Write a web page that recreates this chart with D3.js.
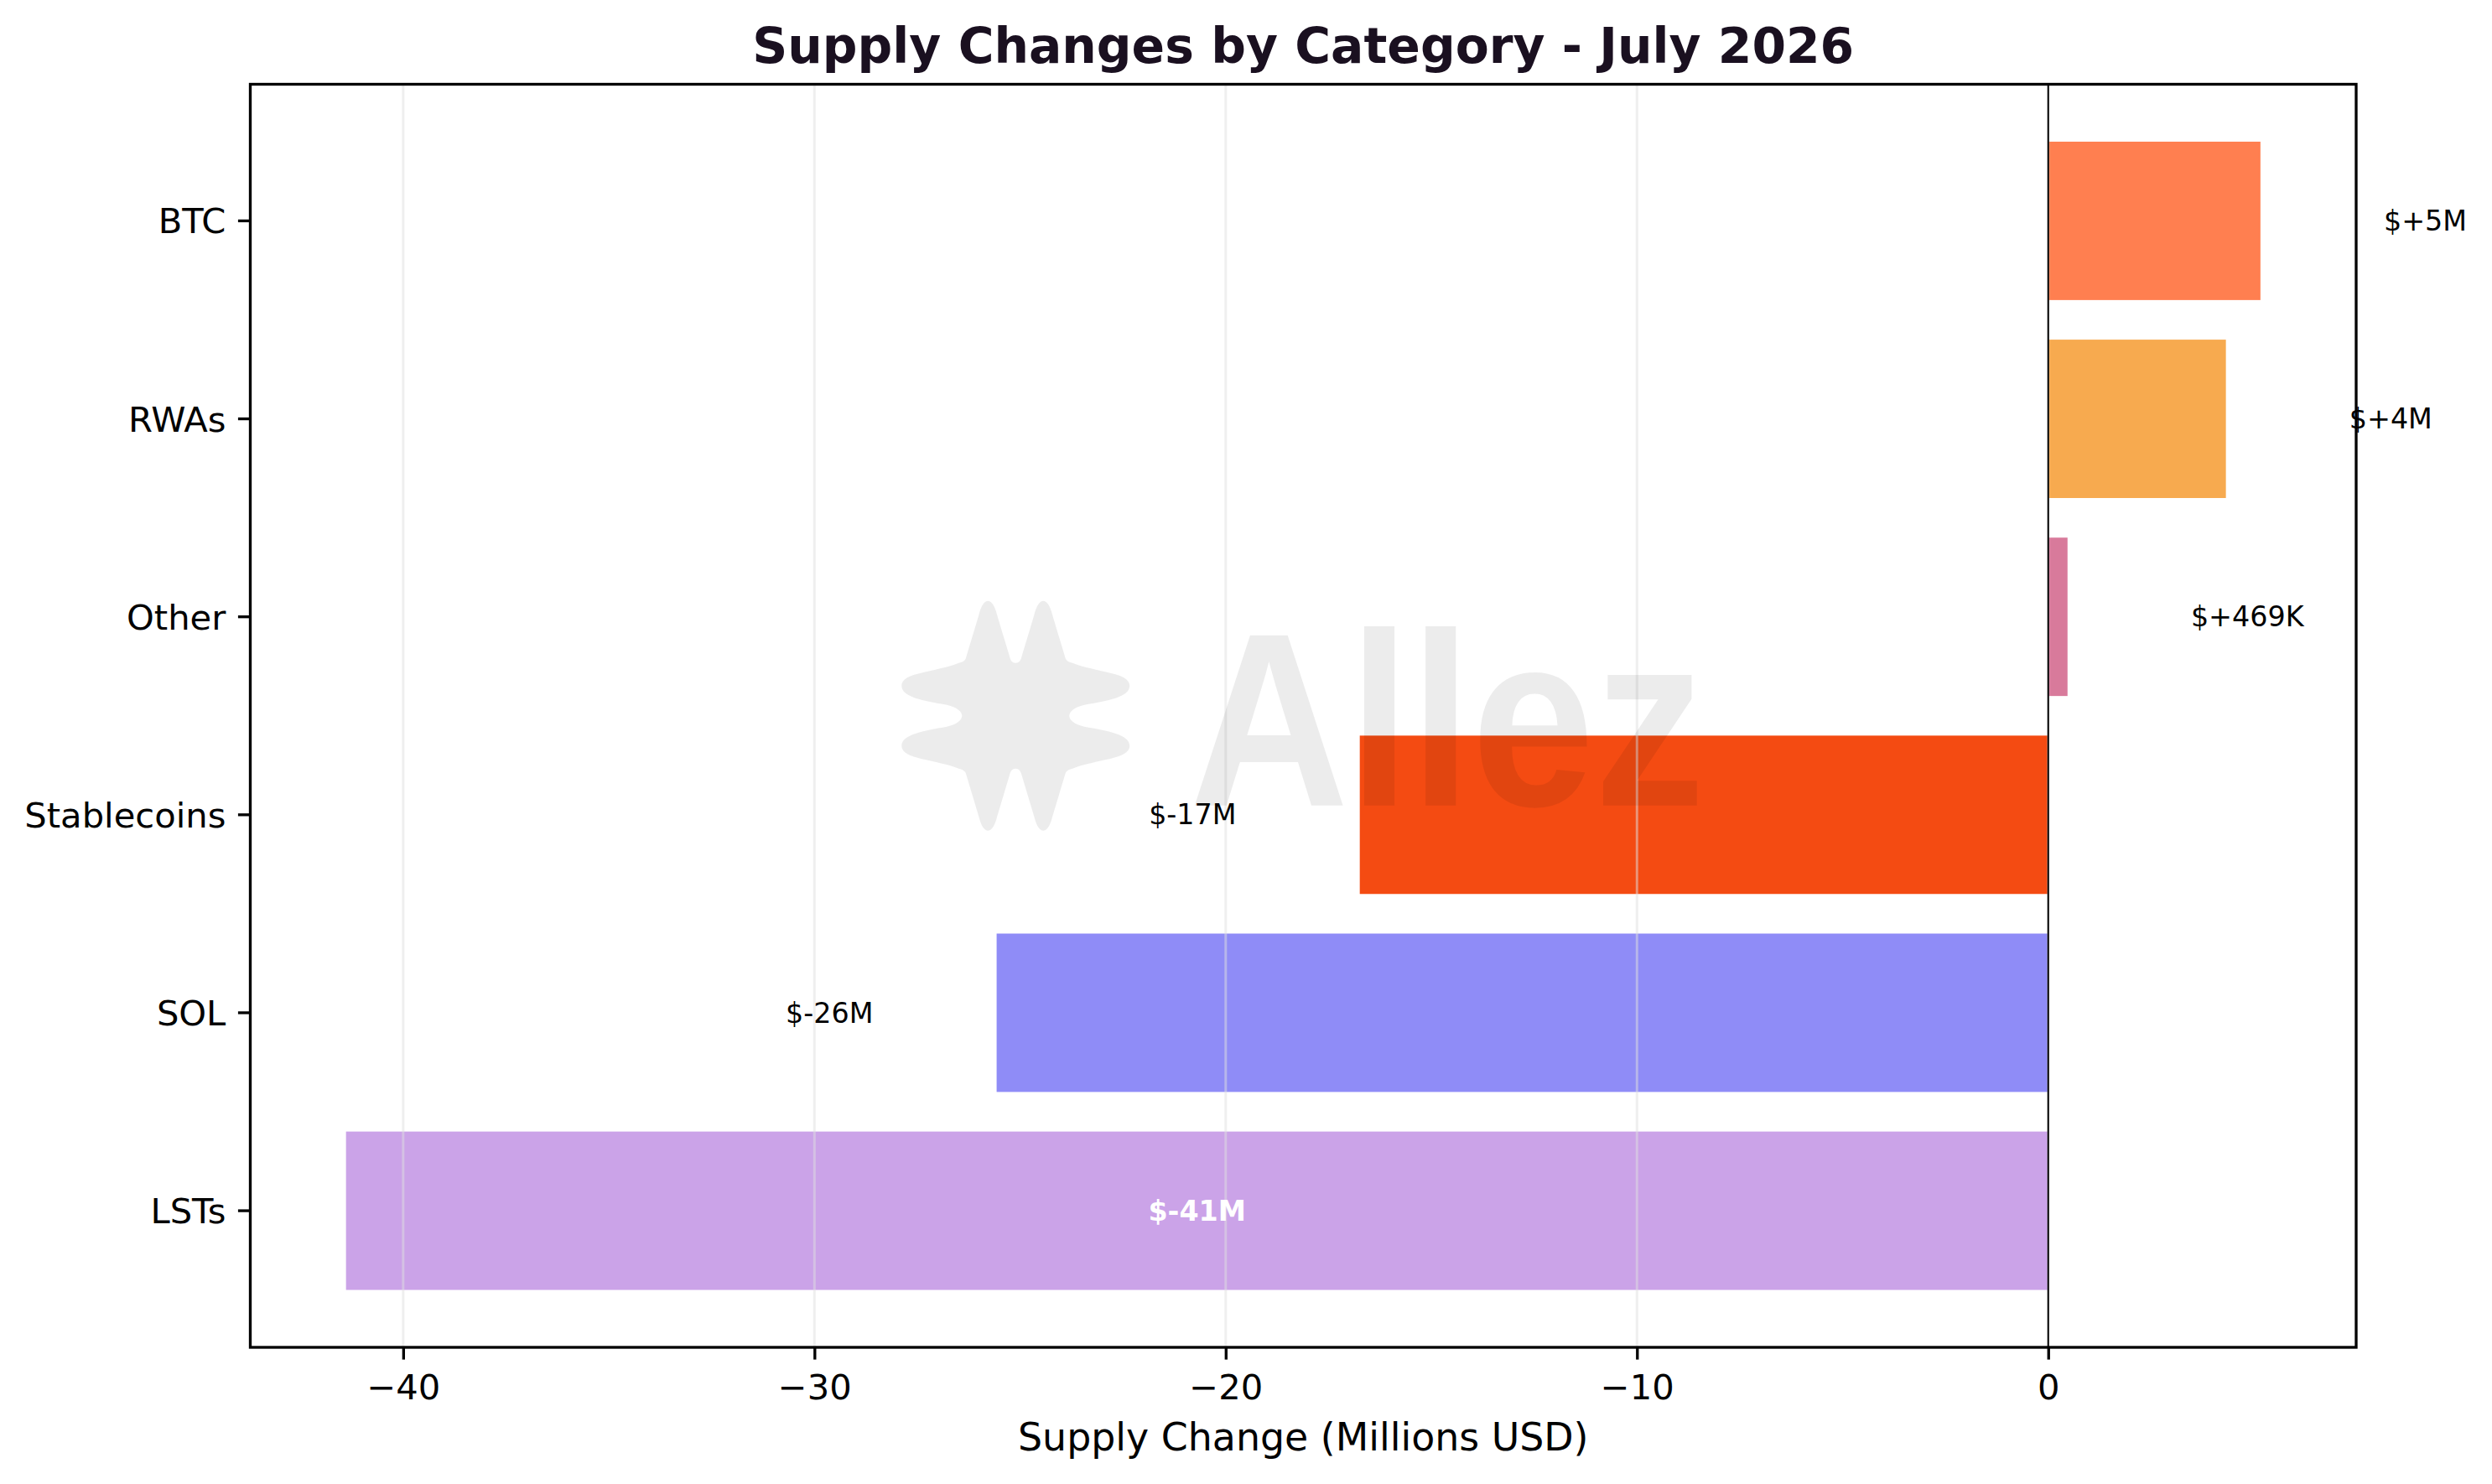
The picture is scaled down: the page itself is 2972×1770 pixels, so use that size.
<!DOCTYPE html>
<html>
<head>
    <meta charset="utf-8">
    <title>Supply Changes by Category</title>
    <script src="https://d3js.org/d3.v7.min.js"></script>
    <style>
        body { margin: 0; background: #fff; }
        text { font-family: "DejaVu Sans", sans-serif; }
    </style>
</head>

<body>
<div id="chart"></div>
<script type="text/javascript">
    // data, top to bottom as drawn
    let categories = ["BTC", "RWAs", "Other", "Stablecoins", "SOL", "LSTs"];
    let changes = [5.16, 4.32, 0.469, -16.74, -25.57, -41.39];   // millions USD
    let barColors = ["#FF7F50", "#F7AA4F", "#D87A9B", "#F44B12", "#8F8CF7", "#CBA3E8"];
    let xTicks = [-40, -30, -20, -10, 0];
    let titleText = "Supply Changes by Category - July 2026";
    let xLabelText = "Supply Change (Millions USD)";

    let W = 2972, H = 1770;
    let margin = {top: 100.5, right: 162, bottom: 163, left: 298.5};
    let w = W - margin.left - margin.right;
    let h = H - margin.top - margin.bottom;

    let pt = 300 / 72;   // px per point
    let labelOffset = 3; // value units between bar end and label
    let insideLimit = 30;

    let data = categories.map(function(c, i){
        return {cat: c, v: changes[i], color: barColors[i]};
    });

    function fmt(v){
        let sign = v >= 0 ? "+" : "-";
        let a = Math.abs(v);
        if (a < 1) return "$" + sign + Math.round(a * 1000) + "K";
        return "$" + sign + Math.round(a) + "M";
    }

    let svg = d3.select("#chart")
            .append("svg")
                .attr("width", W)
                .attr("height", H)
                .style("background", "#fff");

    let g = svg.append("g")
            .attr("transform", "translate(" + margin.left + "," + margin.top + ")");

    // matplotlib-like 5% margins
    let lo = Math.min(0, d3.min(changes)), hi = Math.max(0, d3.max(changes));
    let pad = (hi - lo) * 0.05;

    let xScale = d3.scaleLinear()
                .domain([lo - pad, hi + pad])
                .range([0, w]);

    let yScale = d3.scaleBand()
                .domain(categories)
                .range([0, h])
                .paddingInner(0.2)
                .paddingOuter(0.29);

    // bars
    g.selectAll("rect.bar")
        .data(data)
        .enter()
        .append("rect")
        .attr("class", "bar")
        .attr("x", function(d){ return xScale(Math.min(0, d.v)); })
        .attr("y", function(d){ return yScale(d.cat); })
        .attr("width", function(d){ return Math.abs(xScale(d.v) - xScale(0)); })
        .attr("height", yScale.bandwidth())
        .attr("fill", function(d){ return d.color; });

    // vertical grid
    g.selectAll("line.grid")
        .data(xTicks)
        .enter()
        .append("line")
        .attr("class", "grid")
        .attr("x1", function(d){ return xScale(d); })
        .attr("x2", function(d){ return xScale(d); })
        .attr("y1", 0)
        .attr("y2", h)
        .attr("stroke", "#e0e0e0")
        .attr("stroke-opacity", 0.5)
        .attr("stroke-width", 3);

    // watermark (logo + wordmark) centred in the axes
    let wm = g.append("g")
            .attr("transform", "translate(" + (w / 2) + "," + (h / 2) + ")")
            .attr("fill", "#000")
            .attr("fill-opacity", 0.075);

    let quad = [[0,-63],
        [4,-63],[6,-66],[7,-70],
        [12,-87],[17,-103],[22,-120],
        [25,-132],[29,-137],[33,-137],
        [37,-137],[41,-132],[44,-120],
        [49,-103],[54,-87],[59,-70],
        [60,-66],[63,-64],[68,-63],
        [95,-52],[136,-52],[136,-36],
        [136,-22],[110,-18],[82,-13],
        [70,-10],[64,-5],[64,0]];
    let rev = quad.slice().reverse();
    let pts = quad
        .concat(rev.slice(1).map(function(p){ return [p[0], -p[1]]; }))
        .concat(quad.slice(1).map(function(p){ return [-p[0], -p[1]]; }))
        .concat(rev.slice(1).map(function(p){ return [-p[0], p[1]]; }));
    let dStr = "M" + pts[0].join(",");
    for (let i = 1; i < pts.length; i += 3) {
        dStr += "C" + pts[i].join(",") + " " + pts[i + 1].join(",") + " " + pts[i + 2].join(",");
    }
    wm.append("path")
        .attr("transform", "translate(-343,0)")
        .attr("d", dStr + "Z");

    wm.append("text")
        .attr("x", -136)
        .attr("y", 107)
        .attr("font-family", "'Liberation Sans', sans-serif")
        .style("font-family", "'Liberation Sans', sans-serif")
        .attr("font-weight", "bold")
        .attr("font-size", "295px")
        .attr("textLength", 615)
        .attr("lengthAdjust", "spacingAndGlyphs")
        .text("Allez");

    // value labels
    g.selectAll("text.val")
        .data(data)
        .enter()
        .append("text")
        .attr("class", "val")
        .attr("x", function(d){
            if (Math.abs(d.v) > insideLimit) return xScale(d.v / 2);
            return d.v >= 0 ? xScale(d.v + labelOffset) : xScale(d.v - labelOffset);
        })
        .attr("y", function(d){ return yScale(d.cat) + yScale.bandwidth() / 2; })
        .attr("dy", "0.35em")
        .attr("text-anchor", function(d){
            if (Math.abs(d.v) > insideLimit) return "middle";
            return d.v >= 0 ? "start" : "end";
        })
        .attr("font-size", (8 * pt) + "px")
        .attr("font-weight", function(d){ return Math.abs(d.v) > insideLimit ? "bold" : "normal"; })
        .attr("fill", function(d){ return Math.abs(d.v) > insideLimit ? "#fff" : "#000"; })
        .text(function(d){ return fmt(d.v); });

    // zero line
    g.append("line")
        .attr("x1", xScale(0))
        .attr("x2", xScale(0))
        .attr("y1", 0)
        .attr("y2", h)
        .attr("stroke", "#000")
        .attr("stroke-width", 2);

    // axes
    let xAxis = d3.axisBottom(xScale)
                .tickValues(xTicks)
                .tickSize(3.5 * pt)
                .tickPadding(3.5 * pt)
                .tickSizeOuter(0);

    let yAxis = d3.axisLeft(yScale)
                .tickSize(3.5 * pt)
                .tickPadding(3.5 * pt)
                .tickSizeOuter(0);

    let gx = g.append("g")
            .attr("transform", "translate(0," + h + ")")
            .call(xAxis);
    let gy = g.append("g")
            .call(yAxis);

    [gx, gy].forEach(function(ax){
        ax.select(".domain").remove();
        ax.selectAll(".tick line").attr("stroke", "#000").attr("stroke-width", 0.8 * pt);
        ax.selectAll(".tick text")
            .attr("fill", "#000")
            .attr("font-family", "'DejaVu Sans', sans-serif")
            .attr("font-size", (10 * pt) + "px");
    });
    gx.selectAll(".tick text").attr("dy", "0.78em");
    gy.selectAll(".tick text").attr("dy", "0.36em");

    // spines
    g.append("rect")
        .attr("x", 0)
        .attr("y", 0)
        .attr("width", w)
        .attr("height", h)
        .attr("fill", "none")
        .attr("stroke", "#000")
        .attr("stroke-width", 0.8 * pt);

    // title and x label
    svg.append("text")
        .attr("x", margin.left + w / 2)
        .attr("y", 75)
        .attr("text-anchor", "middle")
        .attr("font-size", (14 * pt) + "px")
        .attr("font-weight", "bold")
        .attr("fill", "#1a1020")
        .text(titleText);

    svg.append("text")
        .attr("x", margin.left + w / 2)
        .attr("y", 1730)
        .attr("text-anchor", "middle")
        .attr("font-size", (11 * pt) + "px")
        .attr("fill", "#000")
        .text(xLabelText);
</script>
</body>
</html>
